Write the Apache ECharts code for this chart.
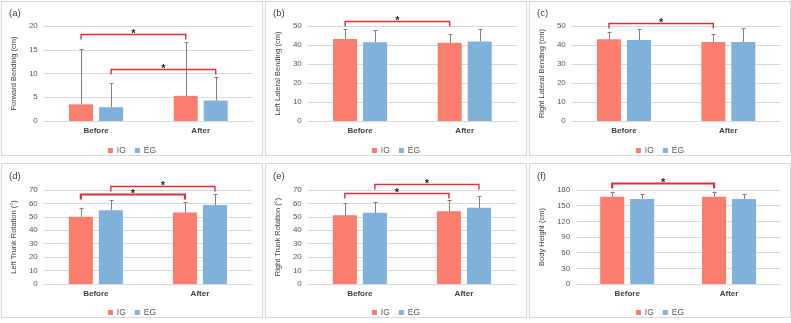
<!DOCTYPE html>
<html>
<head>
<meta charset="utf-8">
<script src="https://cdn.jsdelivr.net/npm/echarts@6/dist/echarts.min.js"></script>
<style>
  html, body { margin: 0; padding: 0; background: #ffffff; }
  #wrap { position: relative; width: 791px; height: 323px; overflow: hidden; background: #fff; }
  .panel { position: absolute; border: 1px solid #d9d9d9; }
</style>
</head>
<body>
<div id="wrap"></div>
<script>
// ---------- data ----------
const categories = ['Before', 'After'];
const seriesNames = ['IG', 'EG'];
const panelLabels = ['(a)', '(b)', '(c)', '(d)', '(e)', '(f)'];
const yNames = ['Forward Bending (cm)', 'Left Lateral Bending (cm)', 'Right Lateral Bending (cm)',
                'Left Trunk Rotation (°)', 'Right Trunk Rotation (°)', 'Body Height (cm)'];
const yMax  = [20, 50, 50, 70, 70, 180];
const yStep = [5, 10, 10, 10, 10, 30];
const igMean = [[3.5, 5.3], [43.2, 41.2], [43.0, 41.6], [50.0, 53.2], [51.2, 54.2], [167.3, 167.3]];
const igSD   = [[11.6, 11.3], [5.0, 4.6], [4.0, 4.2], [6.9, 7.9], [8.9, 8.4], [9.5, 9.5]];
const egMean = [[2.9, 4.3], [41.4, 41.9], [42.6, 41.6], [55.0, 58.9], [53.0, 56.7], [162.8, 162.8]];
const egSD   = [[5.0, 5.0], [6.5, 6.3], [5.6, 7.2], [7.4, 8.2], [7.9, 8.9], [9.6, 9.6]];
// significance brackets: [group index (0 IG, 1 EG), bracket level in axis units]
const brackets = [
  [[0, 18.3], [1, 11.0]],
  [[0, 52.6]],
  [[0, 51.4]],
  [[0, 66.8], [1, 73.0]],
  [[0, 68.1], [1, 74.3]],
  [[0, 194]]
];

// ---------- layout / style ----------
const panelBox = [ // outer left, top
  [1, 1], [265, 1], [529, 1], [1, 163], [265, 163], [529, 163]
];
const panelW = 262, panelH = 155;
const gridLeft  = [35, 35, 36.5, 38, 38, 42];
const gridWidth = [216, 216, 214, 212, 212, 208];
const gridTop   = [24, 24, 24, 26, 26, 26];
const gridH     = [95, 95, 95, 94, 94, 94];
const bracketW  = [[1.4, 1.4], [1.4], [1.4], [2.2, 1.4], [1.4, 1.4], [2.2]];
const FONT = '"Liberation Sans", Arial, sans-serif';
const COL = ['#FB7D6D', '#7FB1DA'];
const BR_COL = '#D9303C';
const BAR_W = 24, BAR_GAP = 0.25;
const OFFS = [-(BAR_W * (1 + BAR_GAP)) / 2, (BAR_W * (1 + BAR_GAP)) / 2];

const wrap = document.getElementById('wrap');

for (let p = 0; p < 6; p++) {
  const d = document.createElement('div');
  d.className = 'panel';
  d.style.left = panelBox[p][0] + 'px';
  d.style.top = panelBox[p][1] + 'px';
  d.style.width = (panelW - 2) + 'px';
  d.style.height = (panelH - 2) + 'px';
  wrap.appendChild(d);
  const chart = echarts.init(d, null, { renderer: 'canvas' });

  const means = [igMean[p], egMean[p]];
  const sds = [igSD[p], egSD[p]];

  const errData = [];
  for (let s = 0; s < 2; s++)
    for (let c = 0; c < categories.length; c++)
      errData.push([c, means[s][c], means[s][c] + sds[s][c], s]);

  const brData = brackets[p].map((b, i) => [0, b[1], b[0], bracketW[p][i]]);

  const option = {
    animation: false,
    textStyle: { fontFamily: FONT },
    title: {
      text: panelLabels[p], left: 7, top: p < 3 ? 6 : 7, padding: 0,
      textStyle: { fontSize: 9.5, fontWeight: 'normal', color: '#404040', fontFamily: FONT }
    },
    legend: {
      data: seriesNames, bottom: 'auto', top: 139, left: 'center',
      icon: 'rect', itemWidth: 5, itemHeight: 5, itemGap: 9,
      textStyle: { fontSize: 8.5, color: '#595959', fontFamily: FONT, padding: [0, 0, 0, -1] }
    },
    grid: { left: gridLeft[p], top: gridTop[p], width: gridWidth[p], height: gridH[p] },
    xAxis: {
      type: 'category', data: categories,
      axisLine: { lineStyle: { color: '#d9d9d9' } },
      axisTick: { show: false },
      axisLabel: { fontSize: 8, fontWeight: 'bold', color: '#404040', margin: 6, fontFamily: FONT }
    },
    yAxis: {
      type: 'value', min: 0, max: yMax[p], interval: yStep[p],
      name: yNames[p], nameLocation: 'middle', nameGap: gridLeft[p] - 15,
      nameTextStyle: { fontSize: 7.5, color: '#404040', fontFamily: FONT },
      axisLine: { show: false }, axisTick: { show: false },
      axisLabel: { fontSize: 8, color: '#595959', margin: 6, fontFamily: FONT },
      splitLine: { lineStyle: { color: '#d9d9d9' } }
    },
    series: [
      { name: 'IG', type: 'bar', data: igMean[p], barWidth: BAR_W, barGap: (BAR_GAP * 100) + '%',
        itemStyle: { color: COL[0] } },
      { name: 'EG', type: 'bar', data: egMean[p], barWidth: BAR_W,
        itemStyle: { color: COL[1] } },
      { type: 'custom', data: errData, z: 5, silent: true,
        renderItem: function (params, api) {
          const c = api.value(0), m = api.value(1), t = api.value(2), s = api.value(3);
          const p0 = api.coord([c, m]), p1 = api.coord([c, t]);
          const x = Math.round(p0[0] + OFFS[s]) + 0.5;
          return { type: 'group', children: [
            { type: 'line', shape: { x1: x, y1: p0[1], x2: x, y2: p1[1] },
              style: { stroke: '#7f7f7f', lineWidth: 1 } },
            { type: 'line', shape: { x1: x - 2, y1: Math.round(p1[1]) + 0.5, x2: x + 2, y2: Math.round(p1[1]) + 0.5 },
              style: { stroke: '#7f7f7f', lineWidth: 1 } }
          ]};
        } },
      { type: 'custom', data: brData, z: 6, silent: true, clip: false,
        renderItem: function (params, api) {
          const lv = api.value(1), s = api.value(2), w = api.value(3);
          const a = api.coord([0, lv]), b = api.coord([1, lv]);
          const xs = a[0] + OFFS[s], xe = b[0] + OFFS[s], y = Math.round(a[1]) + 0.5;
          return { type: 'group', children: [
            { type: 'polyline', shape: { points: [[xs, y + 5], [xs, y], [xe, y], [xe, y + 5]] },
              style: { stroke: BR_COL, lineWidth: w, fill: null } },
            { type: 'text', style: { text: '*', x: (xs + xe) / 2, y: y - 1, align: 'center', verticalAlign: 'middle',
              fontSize: 11, fontWeight: 'bold', fill: '#262626', fontFamily: FONT } }
          ]};
        } }
    ]
  };
  chart.setOption(option);
}
</script>
</body>
</html>
